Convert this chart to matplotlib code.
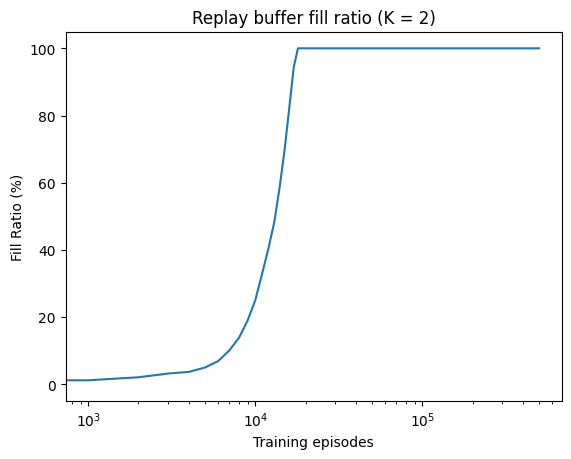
import matplotlib
matplotlib.use("Agg")
import matplotlib.pyplot as plt

# Episodes at which the buffer fill ratio was logged
episodes = [0, 1000, 2000, 3000, 4000, 5000, 6000, 7000, 8000, 9000, 10000,
            11000, 12000, 13000, 14000, 15000, 16000, 17000, 18000,
            20000, 50000, 100000, 200000, 500000]
fill_ratio = [0.0, 1.2, 2.1, 3.2, 3.7, 5.0, 6.9, 10.1, 13.9, 19.0, 25.0,
              33.0, 40.5, 48.3, 58.7, 70.0, 82.5, 94.4, 100.0,
              100.0, 100.0, 100.0, 100.0, 100.0]

fig, ax = plt.subplots()
ax.plot(episodes, fill_ratio)
ax.set_xscale("log")
ax.set_xlabel("Training episodes")
ax.set_ylabel("Fill Ratio (%)")
ax.set_title("Replay buffer fill ratio (K = 2)")

fig.savefig("out.png", bbox_inches="tight")
